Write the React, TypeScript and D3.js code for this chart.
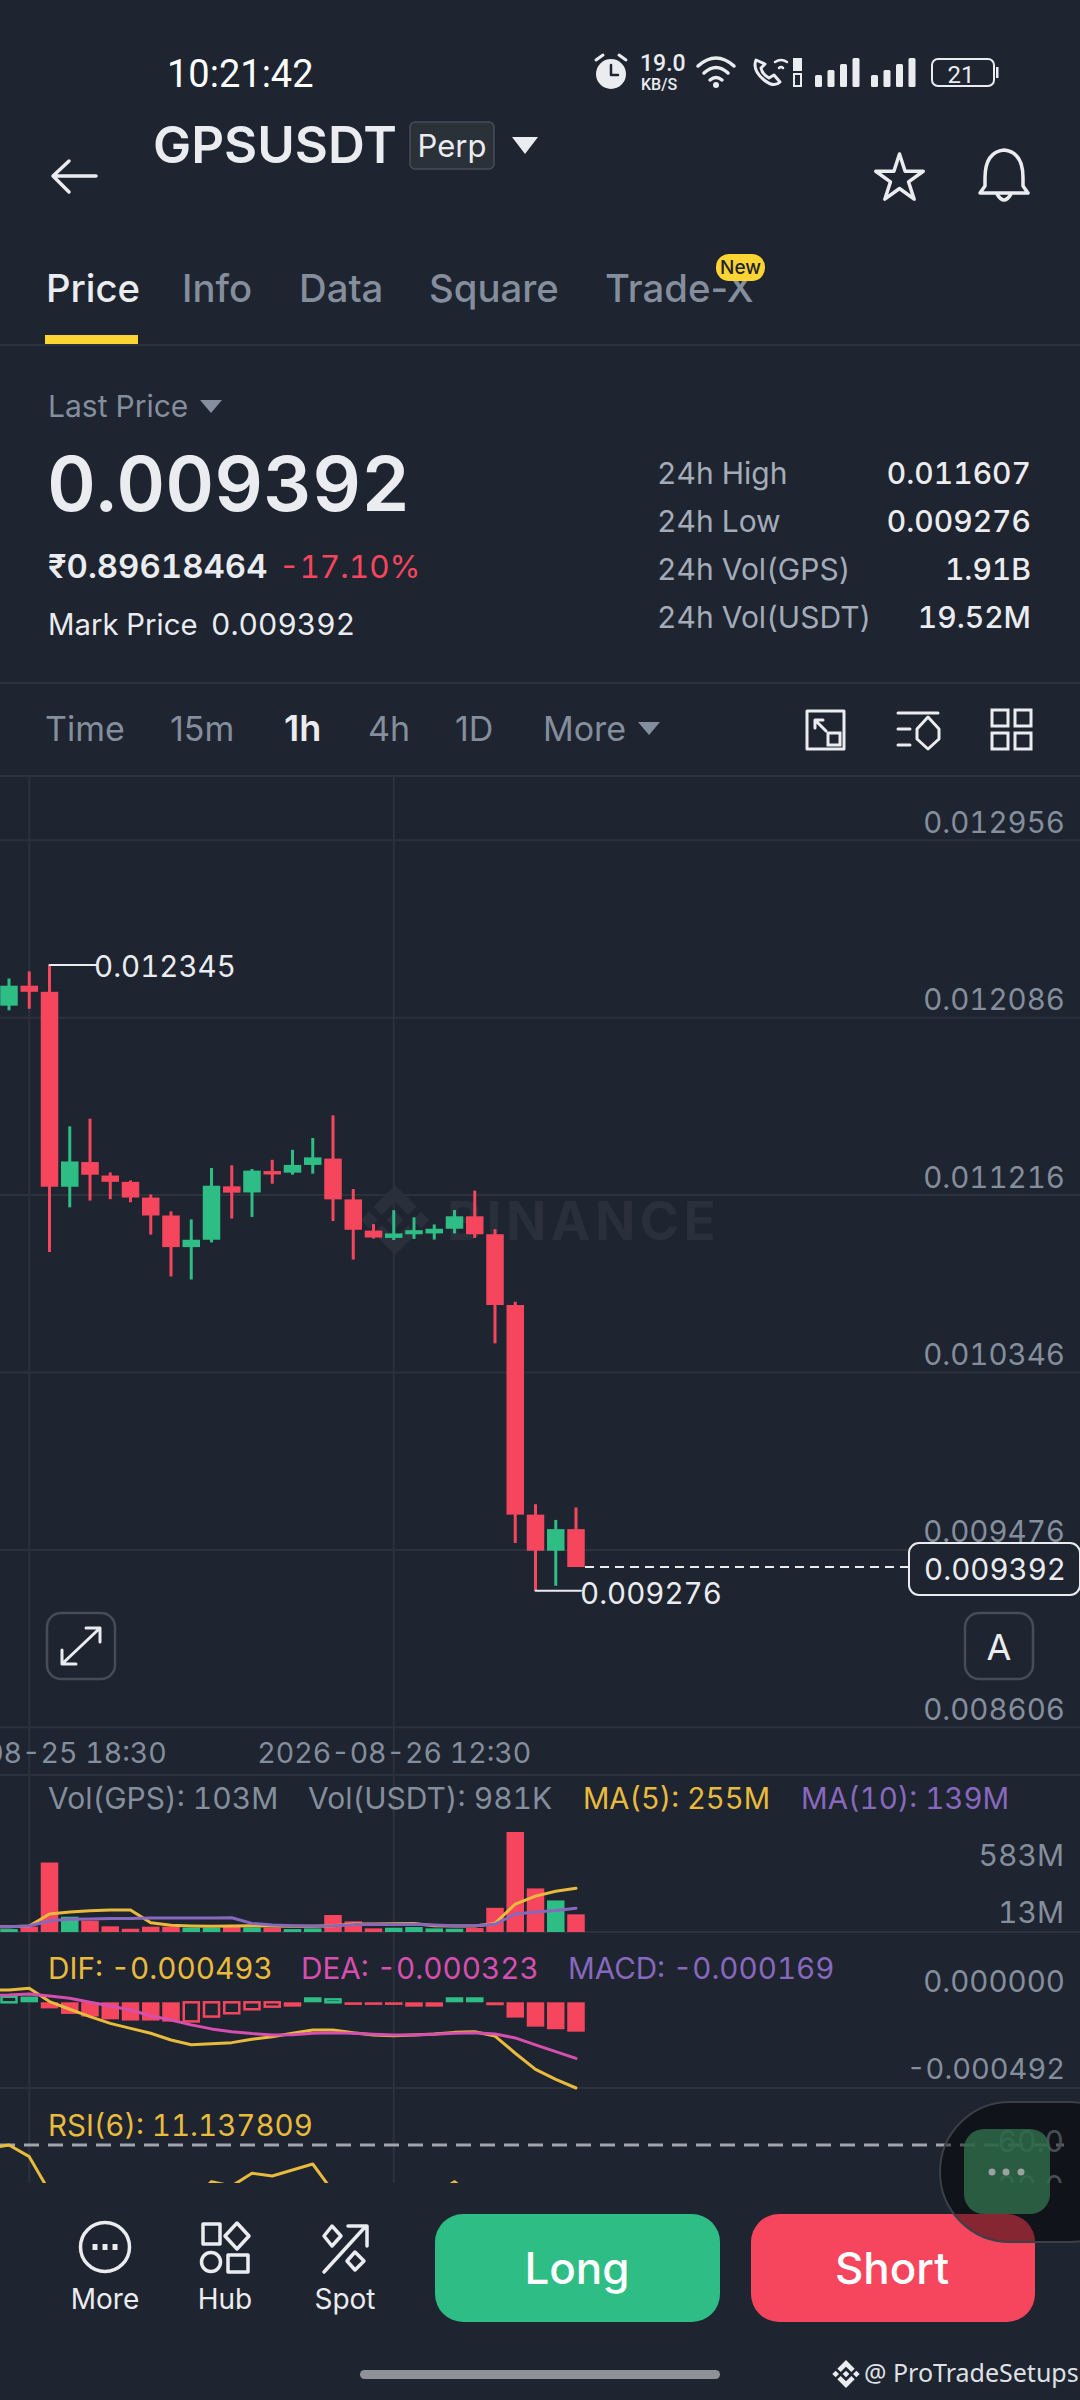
import React, { useRef, useEffect } from "react";
import * as d3 from "d3";

// index 0 sits just off the left edge, the chart is scrolled
const openPrice = [0.01213, 0.012145, 0.012243, 0.012213, 0.011257, 0.011378, 0.011312, 0.011281, 0.011204, 0.011116, 0.010961, 0.010997, 0.011259, 0.011229, 0.011334, 0.011326, 0.011364, 0.011395, 0.011195, 0.011042, 0.011006, 0.011024, 0.011028, 0.011051, 0.011112, 0.011024, 0.010677, 0.009649, 0.009472, 0.009578];
const closePrice = [0.012145, 0.012243, 0.012213, 0.011257, 0.011381, 0.011316, 0.011281, 0.011204, 0.011116, 0.010961, 0.010997, 0.011262, 0.011228, 0.011336, 0.011317, 0.011364, 0.011401, 0.011195, 0.011046, 0.011008, 0.011028, 0.011044, 0.011051, 0.011112, 0.011024, 0.010677, 0.009649, 0.009472, 0.009578, 0.009392];
const highPrice = [0.01218, 0.012278, 0.012313, 0.012345, 0.011553, 0.011591, 0.011327, 0.011288, 0.011219, 0.011136, 0.011097, 0.011349, 0.011362, 0.011344, 0.011389, 0.011438, 0.011496, 0.011607, 0.011246, 0.011074, 0.011142, 0.011107, 0.011072, 0.011143, 0.011238, 0.011049, 0.010693, 0.0097, 0.009623, 0.009684];
const lowPrice = [0.0121, 0.012122, 0.01213, 0.010937, 0.011156, 0.011189, 0.011196, 0.011181, 0.011022, 0.010817, 0.010802, 0.010984, 0.011101, 0.011109, 0.011272, 0.011316, 0.011321, 0.011089, 0.0109, 0.011003, 0.010996, 0.011001, 0.010998, 0.011028, 0.011006, 0.010489, 0.00951, 0.009276, 0.0093, 0.009392];

const volume = [20, 17, 31, 405, 89, 66, 33, 19, 31, 31, 25, 25, 31, 27, 25, 17, 21, 99, 62, 21, 25, 29, 21, 19, 23, 141, 583, 254, 184, 103];
const volMa5 = [30, 31, 35, 105, 116, 124, 128, 128, 54, 39, 35, 33, 35, 37, 35, 33, 33, 37, 47, 47, 48, 50, 37, 35, 35, 50, 163, 209, 238, 255];
const volMa10 = [30, 31, 35, 66, 74, 76, 78, 78, 81, 81, 81, 81, 83, 50, 41, 37, 35, 37, 43, 43, 43, 45, 41, 37, 37, 45, 105, 116, 126, 139];

const macdHist = [0.000035, 0.000032, 0.000033, -0.000035, -0.000067, -0.000082, -0.000098, -0.000105, -0.000105, -0.000111, -0.00011, -0.000082, -0.000063, -0.00004, -0.000025, -0.000025, 0.000029, 0.000017, -0.000015, -0.000015, -0.000015, -0.000025, -0.000025, 0.000029, 0.000029, -0.000017, -0.000088, -0.00014, -0.000155, -0.000169];
const macdDif = [0.00007, 0.000071, 0.000081, 0.000004, -0.00004, -0.000082, -0.000121, -0.00015, -0.000178, -0.000217, -0.000244, -0.000238, -0.000232, -0.000213, -0.000198, -0.000178, -0.000159, -0.000159, -0.000175, -0.000188, -0.000192, -0.000188, -0.000182, -0.000173, -0.000169, -0.000194, -0.000293, -0.000386, -0.000443, -0.000493];
const macdDea = [0.00004, 0.000042, 0.000048, 0.000036, 0.000023, 0, -0.000021, -0.000044, -0.000077, -0.000102, -0.00013, -0.000153, -0.000169, -0.00018, -0.000188, -0.000186, -0.000178, -0.000175, -0.000178, -0.000184, -0.000188, -0.000188, -0.000184, -0.000178, -0.000175, -0.000182, -0.000205, -0.000245, -0.000284, -0.000323];
const rsi6 = [58, 60, 53, 32, 36, 35, 34, 31, 27, 22, 26, 38, 35.4, 43, 41.4, 45, 48.6, 32, 22, 22, 24, 26, 30, 38, 28, 18, 10, 9, 14, 11.14];

const priceTicks = [0.012956, 0.012086, 0.011216, 0.010346, 0.009476, 0.008606];
const timeTicks = [2, 20];
const timeLabels = ["2026-08-25 18:30", "2026-08-26 12:30"];
const statRows = [
  ["24h High", "0.011607"],
  ["24h Low", "0.009276"],
  ["24h Vol(GPS)", "1.91B"],
  ["24h Vol(USDT)", "19.52M"],
];

const BG = "#1e2430";
const GRID = "#2c323c";
const RED = "#f6465d";
const GREEN = "#2ebd85";
const GRAY = "#848e9c";
const WHITE = "#eaecef";
const YELLOW = "#e9bb3d";
const PURPLE = "#8868bd";
const PINK = "#d64fae";
const FONT = "Inter, sans-serif";

type G = d3.Selection<SVGGElement, unknown, null, undefined>;

function label(g: G, s: string, x: number, y: number, size: number, fill: string, weight = 400, anchor = "start", family = FONT) {
  return g.append("text").attr("x", x).attr("y", y).attr("font-size", size).attr("fill", fill)
    .attr("font-weight", weight).attr("text-anchor", anchor).attr("font-family", family).text(s);
}

function logo(g: G, cx: number, cy: number, s: number, fill: string) {
  const d = "M0,-1L.62,-.38L.38,-.14L0,-.52L-.38,-.14L-.62,-.38Z M0,1L.62,.38L.38,.14L0,.52L-.38,.14L-.62,.38Z M0,-.24L.24,0L0,.24L-.24,0Z M-.74,-.24L-.5,0L-.74,.24L-.98,0Z M.74,-.24L.98,0L.74,.24L.5,0Z";
  g.append("path").attr("d", d).attr("fill", fill).attr("transform", `translate(${cx},${cy}) scale(${s})`);
}

function outline(g: G, d: string, width = 3.5, stroke = WHITE) {
  return g.append("path").attr("d", d).attr("fill", "none").attr("stroke", stroke).attr("stroke-width", width)
    .attr("stroke-linejoin", "round").attr("stroke-linecap", "round");
}

const App: React.FC = () => {
  const svgRef = useRef<SVGSVGElement>(null);

  useEffect(() => {
    if (!svgRef.current) return;
    const svg = d3.select(svgRef.current);
    svg.selectAll("*").remove();
    svg.append("rect").attr("width", 1080).attr("height", 2400).attr("fill", BG);

    const idx = d3.range(volume.length);
    const x = d3.scaleLinear().domain([1, 29]).range([9, 576]);
    const barW = 17.5;
    const priceY = d3.scaleLinear().domain([0.012956, 0.008606]).range([840.3, 1727.3]);
    const volY = d3.scaleLinear().domain([0, 583]).range([1932, 1832]);
    const macdY = d3.scaleLinear().domain([0, -0.000493]).range([2002.3, 2088]);
    const rsiY = d3.scaleLinear().domain([60, 30]).range([2145, 2195]);

    // grid
    const grid = svg.append("g").attr("stroke", GRID).attr("stroke-width", 2);
    grid.selectAll("line.h").data(priceTicks).join("line").attr("x1", 0).attr("x2", 1080)
      .attr("y1", (d) => priceY(d)).attr("y2", (d) => priceY(d));
    grid.selectAll("line.f").data([345, 683, 776, 1775, 1932, 2088]).join("line").attr("x1", 0).attr("x2", 1080)
      .attr("y1", (d) => d).attr("y2", (d) => d);
    grid.selectAll("line.v").data(timeTicks).join("line").attr("x1", (d) => x(d)).attr("x2", (d) => x(d))
      .attr("y1", 776).attr("y2", 2183);

    // watermark
    const wm = svg.append("g");
    logo(wm, 395, 1220, 35, "#2a303b");
    label(wm, "BINANCE", 447, 1240, 53, "#2a303b", 700).attr("letter-spacing", 4.5);

    // candles
    const color = (i: number) => (closePrice[i] >= openPrice[i] ? GREEN : RED);
    const candles = svg.append("g");
    candles.selectAll("line").data(idx).join("line")
      .attr("x1", (i) => x(i)).attr("x2", (i) => x(i))
      .attr("y1", (i) => priceY(highPrice[i])).attr("y2", (i) => priceY(lowPrice[i]))
      .attr("stroke", color).attr("stroke-width", 3);
    candles.selectAll("rect").data(idx).join("rect")
      .attr("x", (i) => x(i) - barW / 2).attr("width", barW)
      .attr("y", (i) => priceY(Math.max(openPrice[i], closePrice[i])))
      .attr("height", (i) => Math.max(2, Math.abs(priceY(openPrice[i]) - priceY(closePrice[i]))))
      .attr("fill", color);

    // high / low / last markers
    const marks = svg.append("g");
    const hiY = priceY(d3.max(highPrice) as number);
    const loY = priceY(d3.min(lowPrice) as number);
    const hiX = x(highPrice.indexOf(d3.max(highPrice) as number));
    const loX = x(lowPrice.indexOf(d3.min(lowPrice) as number));
    outline(marks, `M${hiX},${hiY}H96`, 2);
    label(marks, "0.012345", 94, hiY + 12, 29.5, WHITE);
    outline(marks, `M${loX},${loY}H581`, 2);
    label(marks, "0.009276", 580, loY + 13, 29.5, WHITE);
    const lastY = priceY(closePrice[closePrice.length - 1]);
    marks.append("line").attr("x1", 585).attr("x2", 909).attr("y1", lastY).attr("y2", lastY)
      .attr("stroke", WHITE).attr("stroke-width", 2).attr("stroke-dasharray", "9 6");

    // price axis
    const priceAxis = svg.append("g").attr("transform", "translate(1065,0)")
      .call(d3.axisLeft(priceY).tickValues(priceTicks).tickSize(0).tickFormat(d3.format(".6f") as any));
    priceAxis.select(".domain").remove();
    priceAxis.selectAll("text").attr("x", 0).attr("dy", -8).attr("font-size", 29.5).attr("font-family", FONT).attr("fill", GRAY);

    marks.raise();
    const tag = svg.append("g");
    tag.append("rect").attr("x", 909).attr("y", 1543).attr("width", 171).attr("height", 52).attr("rx", 10)
      .attr("fill", BG).attr("stroke", WHITE).attr("stroke-width", 2);
    label(tag, "0.009392", 995, 1580, 29.5, WHITE, 400, "middle");

    // chart buttons
    const btn = svg.append("g");
    btn.append("rect").attr("x", 47).attr("y", 1613).attr("width", 68).attr("height", 66).attr("rx", 14)
      .attr("fill", "none").attr("stroke", "#474d57").attr("stroke-width", 2.5);
    outline(btn, "M62,1664L100,1628M86,1628H100V1642M62,1650V1664H76", 3);
    btn.append("rect").attr("x", 965).attr("y", 1613).attr("width", 68).attr("height", 66).attr("rx", 14)
      .attr("fill", "none").attr("stroke", "#474d57").attr("stroke-width", 2.5);
    label(btn, "A", 999, 1660, 36, WHITE, 400, "middle");

    // time axis
    const timeAxis = svg.append("g").attr("transform", "translate(0,1733)")
      .call(d3.axisBottom(x).tickValues(timeTicks).tickSize(0).tickFormat((d) => timeLabels[timeTicks.indexOf(+d)]));
    timeAxis.select(".domain").remove();
    timeAxis.selectAll("text").attr("font-size", 28.5).attr("font-family", FONT).attr("fill", GRAY).attr("y", 30).attr("dy", 0);

    // volume
    const vol = svg.append("g");
    vol.selectAll("rect").data(idx).join("rect")
      .attr("x", (i) => x(i) - barW / 2).attr("width", barW)
      .attr("y", (i) => volY(volume[i])).attr("height", (i) => volY(0) - volY(volume[i]))
      .attr("fill", color);
    const lineOf = (values: number[], y: d3.ScaleLinear<number, number>) =>
      d3.line<number>().x((i) => x(i)).y((i) => y(values[i]))(idx) as string;
    outline(vol, lineOf(volMa5, volY), 3, YELLOW);
    outline(vol, lineOf(volMa10, volY), 3, PURPLE);
    label(vol, "Vol(GPS): 103M", 48, 1809, 30, GRAY);
    label(vol, "Vol(USDT): 981K", 308, 1809, 30, GRAY);
    label(vol, "MA(5): 255M", 583, 1809, 29.2, YELLOW);
    label(vol, "MA(10): 139M", 801, 1809, 29.5, PURPLE);
    label(vol, "583M", 1064, 1866, 30, GRAY, 400, "end");
    label(vol, "13M", 1064, 1923, 30, GRAY, 400, "end");

    // macd
    const macd = svg.append("g");
    const histColor = (i: number) => (macdHist[i] >= 0 ? GREEN : RED);
    const hollow = (i: number) =>
      i > 0 && macdHist[i] * macdHist[i - 1] > 0 && Math.abs(macdHist[i]) < Math.abs(macdHist[i - 1]);
    macd.selectAll("rect").data(idx).join("rect")
      .attr("x", (i) => x(i) - barW / 2 + (hollow(i) ? 1.25 : 0))
      .attr("width", (i) => barW - (hollow(i) ? 2.5 : 0))
      .attr("y", (i) => macdY(Math.max(macdHist[i], 0)))
      .attr("height", (i) => Math.abs(macdY(macdHist[i]) - macdY(0)))
      .attr("fill", (i) => (hollow(i) ? "none" : histColor(i)))
      .attr("stroke", (i) => (hollow(i) ? histColor(i) : "none"))
      .attr("stroke-width", 2.5);
    outline(macd, lineOf(macdDif, macdY), 3, YELLOW);
    outline(macd, lineOf(macdDea, macdY), 3, PINK);
    label(macd, "DIF: -0.000493", 48, 1979, 29.7, YELLOW);
    label(macd, "DEA: -0.000323", 301, 1979, 29.7, PINK);
    label(macd, "MACD: -0.000169", 568, 1979, 29.6, PURPLE);
    label(macd, "0.000000", 1065, 1992, 29.5, GRAY, 400, "end");
    label(macd, "-0.000492", 1065, 2079, 29, GRAY, 400, "end");

    // rsi, cut off by the bottom bar
    svg.append("clipPath").attr("id", "rsi-clip").append("rect").attr("x", 0).attr("y", 2100).attr("width", 1080).attr("height", 83);
    const rsi = svg.append("g").attr("clip-path", "url(#rsi-clip)");
    rsi.append("line").attr("x1", 0).attr("x2", 1064).attr("y1", rsiY(60)).attr("y2", rsiY(60))
      .attr("stroke", "#a0a4ab").attr("stroke-width", 3).attr("stroke-dasharray", "15 9");
    outline(rsi, lineOf(rsi6, rsiY), 3, YELLOW);
    label(rsi, "60.0", 1064, 2152, 30, GRAY, 400, "end");
    label(rsi, "30.0", 1064, 2197, 30, GRAY, 400, "end");
    label(svg.append("g") as any, "RSI(6): 11.137809", 48, 2136, 29.5, YELLOW);

    // status bar
    const status = svg.append("g");
    label(status, "10:21:42", 167, 87, 38, "#fff", 400, "start", "Roboto");
    status.append("circle").attr("cx", 611).attr("cy", 74).attr("r", 15).attr("fill", WHITE);
    outline(status, "M611,65V75H618", 2.5, BG);
    outline(status, "M596,60L603,55M626,60L619,55", 3);
    label(status, "19.0", 640, 71, 23, WHITE, 500, "start", "Roboto");
    label(status, "KB/S", 641, 90, 16, WHITE, 500, "start", "Roboto");
    outline(status, "M698,66Q716,50 734,66M704,73Q716,62 728,73M710,80Q716,75 722,80", 3.5);
    status.append("circle").attr("cx", 716).attr("cy", 85).attr("r", 3).attr("fill", WHITE);
    outline(status, "M756,60Q752,70 764,80Q774,88 780,82L774,75L769,78Q762,74 761,68L765,64Z", 3);
    outline(status, "M775,62Q781,58 787,62M779,68Q781,66 783,68", 2.5);
    status.append("rect").attr("x", 793).attr("y", 58).attr("width", 9).attr("height", 13).attr("fill", WHITE);
    status.append("rect").attr("x", 794).attr("y", 74).attr("width", 7).attr("height", 12).attr("fill", "none").attr("stroke", WHITE).attr("stroke-width", 2);
    [815, 871].forEach((sx) => {
      [12, 17, 23, 29].forEach((h, k) => {
        status.append("rect").attr("x", sx + k * 12.5).attr("y", 87 - h).attr("width", 7).attr("height", h).attr("rx", 1.5).attr("fill", WHITE);
      });
    });
    status.append("rect").attr("x", 932).attr("y", 59).attr("width", 62).attr("height", 27).attr("rx", 6)
      .attr("fill", "none").attr("stroke", WHITE).attr("stroke-width", 2);
    status.append("rect").attr("x", 996).attr("y", 67).attr("width", 2.5).attr("height", 11).attr("fill", WHITE);
    label(status, "21", 961, 83, 24, WHITE, 400, "middle", "Roboto");

    // header
    const head = svg.append("g");
    outline(head, "M96,176H54M69,161L53,176L69,192", 3.5);
    label(head, "GPSUSDT", 153, 163, 51, WHITE, 600);
    head.append("rect").attr("x", 410).attr("y", 122).attr("width", 84).attr("height", 47).attr("rx", 5)
      .attr("fill", "#2b3139").attr("stroke", "#474d57").attr("stroke-width", 1.5);
    label(head, "Perp", 452, 157, 31, WHITE, 400, "middle");
    head.append("path").attr("d", "M512,137H538L525,154Z").attr("fill", WHITE);
    outline(head, d3.symbol(d3.symbolStar, 700)() as string, 3.5).attr("transform", "translate(899.5,179)");
    outline(head, "M1004,150Q1023,152 1023,178V186L1028,193H980L985,186V178Q985,152 1004,150ZM997,194Q1004,206 1011,194", 3.5);

    // tabs, hyphen in Trade-X should not be tabular
    const tabs = svg.append("g").style("font-variant-numeric", "normal");
    [["Price", 46], ["Info", 182], ["Data", 299], ["Square", 429], ["Trade-X", 605]].forEach(([s, tx], k) => {
      label(tabs, s as string, tx as number, 302, 38.3, k === 0 ? WHITE : GRAY, 500);
    });
    tabs.append("rect").attr("x", 45).attr("y", 335).attr("width", 93).attr("height", 9).attr("fill", "#fcd535");
    tabs.append("rect").attr("x", 716).attr("y", 254).attr("width", 49).attr("height", 27).attr("rx", 13).attr("fill", "#fcd535");
    label(tabs, "New", 740.5, 274, 19, "#1e2329", 500, "middle");

    // price block
    const info = svg.append("g");
    label(info, "Last Price", 48, 417, 30, GRAY);
    info.append("path").attr("d", "M200,400H222L211,413Z").attr("fill", GRAY);
    label(info, "0.009392", 47, 511, 75.7, WHITE, 600);
    label(info, "₹0.89618464", 48, 578, 33, WHITE, 600);
    label(info, "-17.10%", 279, 578, 31.5, RED, 400);
    label(info, "Mark Price", 48, 635, 29.3, WHITE);
    label(info, "0.009392", 211, 635, 30, WHITE);
    statRows.forEach(([name, value], k) => {
      label(info, name, 657, 484 + k * 48, 30, "#a4acb9");
      label(info, value, 1031, 484 + k * 48, 30, WHITE, 500, "end");
    });

    // interval toolbar
    const bar = svg.append("g").style("font-variant-numeric", "normal");
    [["Time", 45], ["15m", 170], ["1h", 284], ["4h", 368], ["1D", 455], ["More", 543]].forEach(([s, tx]) => {
      label(bar, s as string, tx as number, 741, s === "1h" ? 36 : 34, s === "1h" ? WHITE : GRAY, s === "1h" ? 600 : 400);
    });
    bar.append("path").attr("d", "M638,722H660L649,735Z").attr("fill", GRAY);
    outline(bar, "M807,711H844V749H807ZM815,720L826,731M815,728V720H823", 3);
    bar.append("rect").attr("x", 828).attr("y", 733).attr("width", 12).attr("height", 12).attr("fill", BG).attr("stroke", WHITE).attr("stroke-width", 3);
    outline(bar, "M898,713H938M898,729H910M898,745H910M928,717L939,729V739L928,749L917,739V729Z", 3);
    [[992, 710], [1015, 710], [992, 733], [1015, 733]].forEach(([bx, by]) => {
      bar.append("rect").attr("x", bx).attr("y", by).attr("width", 16).attr("height", 16).attr("fill", "none").attr("stroke", WHITE).attr("stroke-width", 3);
    });

    // bottom bar
    const bottom = svg.append("g");
    bottom.append("circle").attr("cx", 105).attr("cy", 2247).attr("r", 24.5).attr("fill", "none").attr("stroke", WHITE).attr("stroke-width", 3.5);
    [95, 105, 115].forEach((dx) => bottom.append("rect").attr("x", dx - 2.5).attr("y", 2244).attr("width", 5).attr("height", 6).attr("fill", WHITE));
    outline(bottom, "M203,2224H220V2244H203ZM237,2223L249,2236L237,2249L225,2236ZM228,2255H248V2272H228Z", 3.5);
    bottom.append("circle").attr("cx", 211).attr("cy", 2262).attr("r", 9.5).attr("fill", "none").attr("stroke", WHITE).attr("stroke-width", 3.5);
    outline(bottom, "M324,2272L366,2226M348,2226H367V2246M332,2226L341,2236L332,2246L324,2236ZM355,2252L364,2261L355,2270L347,2261Z", 3.5);
    [["More", 105], ["Hub", 225], ["Spot", 345]].forEach(([s, tx]) => {
      label(bottom, s as string, tx as number, 2309, 28, WHITE, 400, "middle");
    });
    bottom.append("rect").attr("x", 435).attr("y", 2214).attr("width", 285).attr("height", 108).attr("rx", 28).attr("fill", GREEN);
    bottom.append("rect").attr("x", 751).attr("y", 2214).attr("width", 284).attr("height", 108).attr("rx", 28).attr("fill", RED);
    label(bottom, "Long", 577, 2284, 44, "#fff", 500, "middle");
    label(bottom, "Short", 892, 2284, 44, "#fff", 500, "middle");
    bottom.append("rect").attr("x", 360).attr("y", 2370).attr("width", 360).attr("height", 9).attr("rx", 4.5).attr("fill", "#8e9196");
    logo(bottom, 846, 2374, 14, WHITE);
    label(bottom, "@ ProTradeSetups", 864, 2382, 25, "#dfe1e4", 400, "start", "'Noto Sans'");

    // floating panel over the right edge
    const panel = svg.append("g");
    panel.append("rect").attr("x", 940).attr("y", 2102).attr("width", 200).attr("height", 140).attr("rx", 70)
      .attr("fill", "#000").attr("fill-opacity", 0.45).attr("stroke", "#3a3f49").attr("stroke-width", 2);
    panel.append("rect").attr("x", 964).attr("y", 2129).attr("width", 86).attr("height", 85).attr("rx", 20)
      .attr("fill", "#2f6f4b").attr("fill-opacity", 0.8);
    [992, 1006, 1021].forEach((cx) => panel.append("circle").attr("cx", cx).attr("cy", 2172).attr("r", 3.5).attr("fill", "#9aa19f"));
  }, []);

  return (
    <svg
      ref={svgRef}
      width={1080}
      height={2400}
      style={{ position: "absolute", left: 0, top: 0, display: "block", fontVariantNumeric: "tabular-nums" }}
    ></svg>
  );
};

export default App;
